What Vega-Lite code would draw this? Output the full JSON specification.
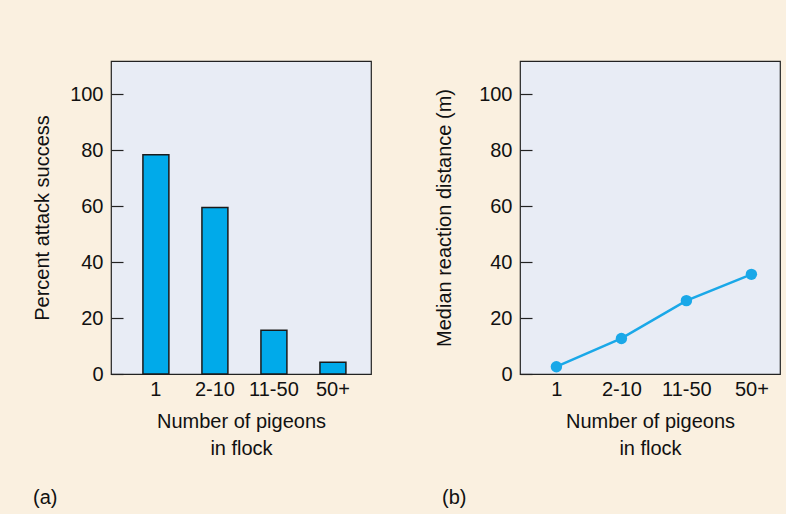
{
  "$schema": "https://vega.github.io/schema/vega-lite/v6.json",
  "background": "#faf0e0",
  "padding": {"left": 32, "top": 60, "right": 5, "bottom": 5},
  "datasets": {
    "attack": [
      {"flock": "1", "success": 78.3},
      {"flock": "2-10", "success": 59.5},
      {"flock": "11-50", "success": 15.6},
      {"flock": "50+", "success": 4.2}
    ],
    "reaction": [
      {"flock": "1", "distance": 2.6},
      {"flock": "2-10", "distance": 12.7},
      {"flock": "11-50", "distance": 26.2},
      {"flock": "50+", "distance": 35.6}
    ]
  },
  "config": {
    "font": "Liberation Sans",
    "view": {"fill": "#e8ecf5", "stroke": "#222222", "strokeWidth": 1.2},
    "axis": {
      "labelFont": "Liberation Sans",
      "titleFont": "Liberation Sans",
      "labelFontSize": 20,
      "titleFontSize": 20,
      "titleFontWeight": "normal",
      "labelColor": "#111111",
      "titleColor": "#111111",
      "domain": false,
      "grid": false
    },
    "title": {"font": "Liberation Sans", "fontSize": 20, "fontWeight": "normal", "color": "#111111"}
  },
  "spacing": 62,
  "hconcat": [
    {
      "width": 260,
      "height": 313,
      "data": {"name": "attack"},
      "title": {"text": "(a)", "orient": "bottom", "anchor": "start", "frame": "group", "dx": -78, "offset": 30},
      "mark": {"type": "bar", "color": "#00aaea", "stroke": "#1a1a1a", "strokeWidth": 1.5},
      "encoding": {
        "x": {
          "field": "flock",
          "type": "ordinal",
          "sort": ["1", "2-10", "11-50", "50+"],
          "scale": {"paddingInner": 0.56, "paddingOuter": 0.483, "align": 0.56},
          "axis": {"labelAngle": 0, "ticks": false, "labelPadding": 5, "title": ["Number of pigeons", "in flock"], "titlePadding": 12, "titleLineHeight": 27}
        },
        "y": {
          "field": "success",
          "type": "quantitative",
          "scale": {"domain": [0, 111.8], "nice": false},
          "axis": {"values": [0, 20, 40, 60, 80, 100], "tickSize": -12, "tickColor": "#222222", "tickWidth": 1.2, "labelPadding": 20, "title": "Percent attack success", "titlePadding": 17}
        }
      }
    },
    {
      "width": 260,
      "height": 313,
      "data": {"name": "reaction"},
      "title": {"text": "(b)", "orient": "bottom", "anchor": "start", "frame": "group", "dx": -78, "offset": 30},
      "encoding": {
        "x": {
          "field": "flock",
          "type": "ordinal",
          "sort": ["1", "2-10", "11-50", "50+"],
          "scale": {"paddingInner": 0.56, "paddingOuter": 0.483, "align": 0.56},
          "axis": {"labelAngle": 0, "ticks": false, "labelPadding": 5, "title": ["Number of pigeons", "in flock"], "titlePadding": 12, "titleLineHeight": 27}
        },
        "y": {
          "field": "distance",
          "type": "quantitative",
          "scale": {"domain": [0, 111.8], "nice": false},
          "axis": {"values": [0, 20, 40, 60, 80, 100], "tickSize": -12, "tickColor": "#222222", "tickWidth": 1.2, "labelPadding": 20, "title": "Median reaction distance (m)", "titlePadding": 24}
        }
      },
      "layer": [
        {"mark": {"type": "line", "color": "#1aa8e8", "strokeWidth": 2.5}},
        {"mark": {"type": "circle", "color": "#1aa8e8", "opacity": 1, "size": 130}}
      ]
    }
  ]
}
